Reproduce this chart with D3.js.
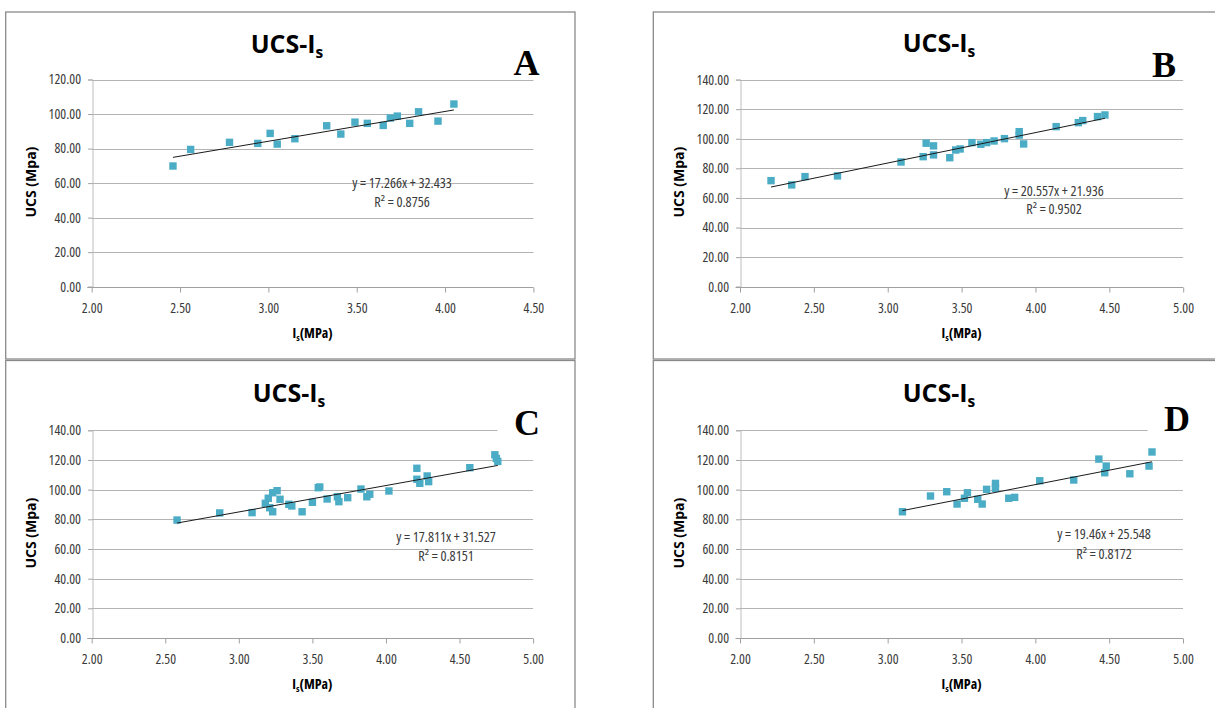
<!DOCTYPE html>
<html>
<head>
<meta charset="utf-8">
<script src="https://cdn.jsdelivr.net/npm/d3@7"></script>
<style>
html,body{margin:0;padding:0;background:#fff;}
svg{display:block;}
</style>
</head>
<body>
<svg id="chart" width="1215" height="708"></svg>
<script>
// ---------- DATA ----------
const panelLabels = ["A", "B", "C", "D"];

const isA  = [2.46, 2.56, 2.78, 2.94, 3.01, 3.05, 3.15, 3.33, 3.41, 3.49, 3.56, 3.65, 3.69, 3.73, 3.80, 3.85, 3.96, 4.05];
const ucsA = [69.9, 79.5, 83.6, 83.0, 88.8, 82.6, 85.7, 93.2, 88.4, 95.3, 94.6, 93.4, 97.7, 98.8, 94.6, 101.3, 95.9, 105.8];

const isB  = [2.21, 2.35, 2.44, 2.66, 3.09, 3.24, 3.26, 3.31, 3.31, 3.42, 3.46, 3.49, 3.57, 3.63, 3.67, 3.72, 3.79, 3.89, 3.89, 3.92, 4.14, 4.29, 4.32, 4.42, 4.47];
const ucsB = [71.7, 68.8, 74.4, 74.9, 84.3, 87.9, 97.0, 95.2, 89.1, 87.2, 92.4, 93.1, 97.4, 96.3, 97.4, 98.5, 100.1, 104.8, 102.5, 96.5, 108.2, 110.9, 112.3, 115.0, 116.1];

const isC  = [2.58, 2.87, 3.09, 3.18, 3.20, 3.21, 3.23, 3.23, 3.26, 3.28, 3.34, 3.36, 3.43, 3.50, 3.54, 3.55, 3.60, 3.67, 3.68, 3.74, 3.83, 3.87, 3.89, 4.02, 4.21, 4.21, 4.23, 4.28, 4.29, 4.57, 4.74, 4.75, 4.76];
const ucsC = [79.5, 84.3, 84.5, 90.8, 94.2, 87.8, 85.1, 97.9, 99.3, 93.5, 90.1, 89.0, 85.1, 91.5, 101.3, 101.8, 93.7, 95.2, 91.9, 94.6, 100.4, 95.2, 96.9, 99.1, 114.4, 107.0, 104.3, 109.2, 105.4, 114.8, 123.5, 121.0, 119.0];

const isD  = [3.10, 3.29, 3.40, 3.47, 3.52, 3.54, 3.61, 3.64, 3.67, 3.73, 3.73, 3.82, 3.86, 4.03, 4.26, 4.43, 4.48, 4.47, 4.64, 4.77, 4.79];
const ucsD = [85.1, 95.7, 98.6, 90.3, 94.2, 97.9, 93.5, 90.3, 100.2, 104.2, 100.9, 94.2, 94.8, 106.0, 106.5, 120.6, 115.9, 111.4, 110.7, 115.9, 125.4];

const slopes     = [17.266, 20.557, 17.811, 19.46];
const intercepts = [32.433, 21.936, 31.527, 25.548];
const r2Values   = ["0.8756", "0.9502", "0.8151", "0.8172"];
const equations  = ["y = 17.266x + 32.433", "y = 20.557x + 21.936", "y = 17.811x + 31.527", "y = 19.46x + 25.548"];

const xTicksA = [2.0, 2.5, 3.0, 3.5, 4.0, 4.5];
const xTicksBCD = [2.0, 2.5, 3.0, 3.5, 4.0, 4.5, 5.0];
const yTicksA = [0, 20, 40, 60, 80, 100, 120];
const yTicksBCD = [0, 20, 40, 60, 80, 100, 120, 140];

const titleMain = "UCS-I";
const titleSub = "s";
const yAxisTitle = "UCS (Mpa)";
const xAxisTitleMain = "I";
const xAxisTitleSub = "s";
const xAxisTitleRest = "(MPa)";

// ---------- LAYOUT (positions only) ----------
const SANS = "'Open Sans','Roboto',sans-serif";
const SERIF = "'Liberation Serif','DejaVu Serif',serif";
const MARK = "#4BACC6";

const layout = [
  {box:[5.7, 12, 569.3, 347], plot:[91.7, 533.4, 286.7, 79.5], title:[287, 53], letter:[526.5, 75], eq:[402, 188.3, 207.3]},
  {box:[653.3, 12, 620, 347], plot:[740, 1183.2, 286.7, 79.6], title:[939, 52], letter:[1164, 77], eq:[1054, 195.5, 214]},
  {box:[5.7, 360.5, 569.3, 400], plot:[91.7, 533.1, 638, 430.3], title:[289, 402], letter:[527, 435], eq:[446, 542, 561.3]},
  {box:[653.3, 360.5, 620, 400], plot:[740, 1183, 638, 430.3], title:[939, 402], letter:[1177, 431], eq:[1104, 539.3, 558.5]}
];

const series = [
  {xs: isA, ys: ucsA, xMax: 4.5, yMax: 120, xt: xTicksA, yt: yTicksA},
  {xs: isB, ys: ucsB, xMax: 5.0, yMax: 140, xt: xTicksBCD, yt: yTicksBCD},
  {xs: isC, ys: ucsC, xMax: 5.0, yMax: 140, xt: xTicksBCD, yt: yTicksBCD},
  {xs: isD, ys: ucsD, xMax: 5.0, yMax: 140, xt: xTicksBCD, yt: yTicksBCD}
];

const svg = d3.select("#chart");
svg.append("rect").attr("width", 1215).attr("height", 708).attr("fill", "#fff");

const fmt = d3.format(".2f");

function sans(sel, size, bold, stretch) {
  sel.style("font-family", SANS).style("font-stretch", stretch || "87.5%").style("font-size", size + "px");
  if (bold) sel.style("font-weight", "bold");
  return sel;
}

series.forEach((s, i) => {
  const L = layout[i];
  const g = svg.append("g");

  // panel border
  g.append("rect")
    .attr("x", L.box[0]).attr("y", L.box[1])
    .attr("width", L.box[2]).attr("height", L.box[3])
    .attr("fill", "#fff").attr("stroke", "#8a8a8a").attr("stroke-width", 1.3);

  const x = d3.scaleLinear().domain([2, s.xMax]).range([L.plot[0], L.plot[1]]);
  const y = d3.scaleLinear().domain([0, s.yMax]).range([L.plot[2], L.plot[3]]);

  // gridlines
  g.append("g").selectAll("line").data(s.yt.filter(v => v > 0)).join("line")
    .attr("x1", x(2)).attr("x2", x(s.xMax))
    .attr("y1", d => Math.round(y(d)) + 0.5).attr("y2", d => Math.round(y(d)) + 0.5)
    .attr("stroke", "#b3b3b3").attr("stroke-width", 1);

  // y axis
  const yAxis = d3.axisLeft(y).tickValues(s.yt).tickFormat(fmt).tickSize(4.5).tickPadding(7);
  const yg = g.append("g").attr("transform", `translate(${Math.round(x(2)) + 0.5},0)`).call(yAxis);
  yg.select(".domain").attr("stroke", "#bdbdbd");
  yg.selectAll(".tick line").attr("stroke", "#a6a6a6");
  sans(yg.selectAll(".tick text").attr("fill", "#3a3a3a"), 13.8);

  // x axis
  const xAxis = d3.axisBottom(x).tickValues(s.xt).tickFormat(fmt).tickSize(5).tickPadding(10.5);
  const xg = g.append("g").attr("transform", `translate(0,${Math.round(y(0)) + 0.5})`).call(xAxis);
  xg.select(".domain").attr("stroke", "#a0a0a0").attr("d", `M${x(2) - 4.5},0H${x(s.xMax)}`);
  xg.selectAll(".tick line").attr("stroke", "#a0a0a0");
  sans(xg.selectAll(".tick text").attr("fill", "#3a3a3a"), 13.8);

  // letter label box (covers top gridline)
  g.append("rect")
    .attr("x", L.letter[0] - 29.5).attr("y", L.letter[1] - 42)
    .attr("width", 62).attr("height", 45).attr("fill", "#fff");
  g.append("text")
    .attr("x", L.letter[0]).attr("y", L.letter[1])
    .attr("text-anchor", "middle")
    .style("font-family", SERIF).style("font-weight", "bold").style("font-size", "36px")
    .attr("fill", "#000")
    .text(panelLabels[i]);

  // chart title
  const t = sans(g.append("text")
    .attr("x", L.title[0]).attr("y", L.title[1])
    .attr("text-anchor", "middle"), 25, true, "93.75%")
    .attr("fill", "#000");
  t.append("tspan").text(titleMain);
  t.append("tspan").attr("dy", "5").style("font-size", "15.5px").text(titleSub);

  // y-axis title
  const ytx = L.plot[0] - 60.5, yty = (L.plot[2] + L.plot[3]) / 2 - 1;
  sans(g.append("text")
    .attr("transform", `translate(${ytx},${yty}) rotate(-90)`)
    .attr("text-anchor", "middle").attr("dy", "0.35em"), 14, true, "100%")
    .attr("fill", "#000")
    .text(yAxisTitle);

  // x-axis title
  const xt = sans(g.append("text")
    .attr("x", (L.plot[0] + L.plot[1]) / 2).attr("y", L.plot[2] + 51)
    .attr("text-anchor", "middle"), 14, true)
    .attr("fill", "#000");
  xt.append("tspan").text(xAxisTitleMain);
  xt.append("tspan").attr("dy", "3").style("font-size", "9.5px").text(xAxisTitleSub);
  xt.append("tspan").attr("dy", "-3").text(xAxisTitleRest);

  // markers
  const pts = s.xs.map((v, k) => [v, s.ys[k]]);
  g.append("g").selectAll("rect").data(pts).join("rect")
    .attr("x", d => x(d[0]) - 3.7).attr("y", d => y(d[1]) - 3.7)
    .attr("width", 7.4).attr("height", 7.4)
    .attr("fill", MARK);

  // linear trendline (drawn over markers, as in Excel)
  const x0 = d3.min(s.xs), x1 = d3.max(s.xs);
  g.append("line")
    .attr("x1", x(x0)).attr("y1", y(slopes[i] * x0 + intercepts[i]))
    .attr("x2", x(x1)).attr("y2", y(slopes[i] * x1 + intercepts[i]))
    .attr("stroke", "#1a1a1a").attr("stroke-width", 1);

  // equation label
  sans(g.append("text")
    .attr("x", L.eq[0]).attr("y", L.eq[1])
    .attr("text-anchor", "middle"), 14.2)
    .attr("fill", "#3a3a3a")
    .text(equations[i]);
  sans(g.append("text")
    .attr("x", L.eq[0]).attr("y", L.eq[2])
    .attr("text-anchor", "middle"), 14.2)
    .attr("fill", "#3a3a3a")
    .text("R² = " + r2Values[i]);
});
</script>
</body>
</html>
